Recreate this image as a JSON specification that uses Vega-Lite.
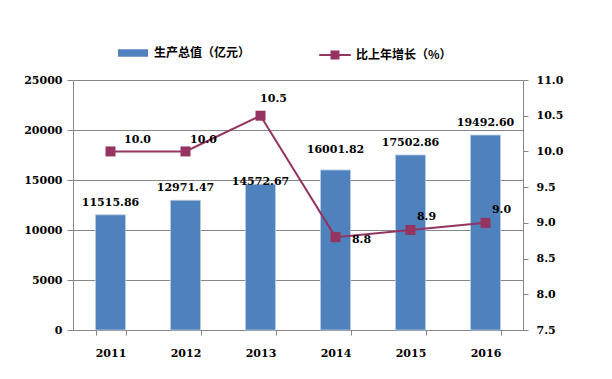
{
  "$schema": "https://vega.github.io/schema/vega-lite/v6.json",
  "width": 450,
  "height": 250,
  "autosize": {"type": "none"},
  "padding": {"left": 73, "top": 80, "right": 89, "bottom": 49},
  "background": "white",
  "config": {
    "view": {"stroke": null},
    "font": "DejaVu Serif",
    "axis": {"labelFont": "DejaVu Serif", "labelFontWeight": "bold", "labelFontSize": 11, "labelColor": "black", "domainColor": "#868686", "tickColor": "#868686", "titleFontSize": 0}
  },
  "data": {"values": [
    {"year": "2011", "gdp": 11515.86, "gdpLabel": "11515.86", "growth": 10.0, "gLabel": "10.0", "s1": "生产总值（亿元）", "s2": "比上年增长（%）"},
    {"year": "2012", "gdp": 12971.47, "gdpLabel": "12971.47", "growth": 10.0, "gLabel": "10.0", "s1": "生产总值（亿元）", "s2": "比上年增长（%）"},
    {"year": "2013", "gdp": 14572.67, "gdpLabel": "14572.67", "growth": 10.5, "gLabel": "10.5", "s1": "生产总值（亿元）", "s2": "比上年增长（%）"},
    {"year": "2014", "gdp": 16001.82, "gdpLabel": "16001.82", "growth": 8.8, "gLabel": "8.8", "s1": "生产总值（亿元）", "s2": "比上年增长（%）"},
    {"year": "2015", "gdp": 17502.86, "gdpLabel": "17502.86", "growth": 8.9, "gLabel": "8.9", "s1": "生产总值（亿元）", "s2": "比上年增长（%）"},
    {"year": "2016", "gdp": 19492.60, "gdpLabel": "19492.60", "growth": 9.0, "gLabel": "9.0", "s1": "生产总值（亿元）", "s2": "比上年增长（%）"}
  ]},
  "encoding": {
    "x": {"field": "year", "type": "ordinal", "title": null,
      "scale": {"paddingInner": 0.6, "paddingOuter": 0.3},
      "axis": {"labelAngle": 0, "tickBand": "extent", "tickSize": 5, "labelPadding": 12, "labelFontSize": 11}}
  },
  "layer": [
    {
      "encoding": {
        "y": {"field": "gdp", "type": "quantitative", "title": null,
          "scale": {"domain": [0, 25000], "nice": false},
          "axis": {"values": [0, 5000, 10000, 15000, 20000, 25000], "format": "d", "grid": true, "gridColor": "#868686", "tickSize": 6, "labelPadding": 5}}
      },
      "layer": [
        {"mark": {"type": "bar", "stroke": "#B9CDE5", "strokeWidth": 0.8},
         "encoding": {"fill": {"field": "s1", "type": "nominal", "scale": {"range": ["#4F81BD"]},
           "legend": {"title": null, "orient": "none", "legendX": 45, "legendY": -42, "symbolType": "M-1,-0.25H1V0.25H-1Z", "symbolSize": 900, "symbolStrokeWidth": 0, "labelFont": "Noto Sans CJK SC", "labelFontWeight": "bold", "labelFontSize": 12, "labelColor": "black", "labelOffset": 6}}}},
        {"transform": [{"filter": "datum.year != '2013' && datum.year != '2014'"}],
         "mark": {"type": "text", "fontWeight": "bold", "fontSize": 11, "font": "DejaVu Serif", "baseline": "middle", "dy": -12},
         "encoding": {"text": {"field": "gdpLabel"}}},
        {"transform": [{"filter": "datum.year == '2013'"}],
         "mark": {"type": "text", "fontWeight": "bold", "fontSize": 11, "font": "DejaVu Serif", "baseline": "middle", "dy": -2},
         "encoding": {"text": {"field": "gdpLabel"}}},
        {"transform": [{"filter": "datum.year == '2014'"}],
         "mark": {"type": "text", "fontWeight": "bold", "fontSize": 11, "font": "DejaVu Serif", "baseline": "middle", "dy": -20},
         "encoding": {"text": {"field": "gdpLabel"}}}
      ]
    },
    {
      "encoding": {
        "y": {"field": "growth", "type": "quantitative", "title": null,
          "scale": {"domain": [7.5, 11], "nice": false, "zero": false},
          "axis": {"orient": "right", "values": [7.5, 8, 8.5, 9, 9.5, 10, 10.5, 11], "format": ".1f", "grid": false, "tickSize": 5, "labelPadding": 8}}
      },
      "layer": [
        {"mark": {"type": "line", "strokeWidth": 2},
         "encoding": {"stroke": {"field": "s2", "type": "nominal", "scale": {"range": ["#953461"]},
           "legend": {"title": null, "orient": "none", "legendX": 245, "legendY": -42, "symbolType": "M-1,0H1M-0.22,-0.22H0.22V0.22H-0.22Z", "symbolSize": 1000, "symbolFillColor": "#953461", "symbolStrokeWidth": 2, "labelFont": "Noto Sans CJK SC", "labelFontWeight": "bold", "labelFontSize": 12, "labelColor": "black", "labelOffset": 4}}}},
        {"mark": {"type": "point", "shape": "square", "filled": true, "size": 100, "color": "#953461", "opacity": 1}},
        {"transform": [{"filter": "datum.year == '2011'"}],
         "mark": {"type": "text", "fontWeight": "bold", "fontSize": 11, "font": "DejaVu Serif", "baseline": "middle", "dx": 27, "dy": -11},
         "encoding": {"text": {"field": "gLabel"}}},
        {"transform": [{"filter": "datum.year == '2012'"}],
         "mark": {"type": "text", "fontWeight": "bold", "fontSize": 11, "font": "DejaVu Serif", "baseline": "middle", "dx": 18, "dy": -11},
         "encoding": {"text": {"field": "gLabel"}}},
        {"transform": [{"filter": "datum.year == '2013'"}],
         "mark": {"type": "text", "fontWeight": "bold", "fontSize": 11, "font": "DejaVu Serif", "baseline": "middle", "dx": 13, "dy": -17},
         "encoding": {"text": {"field": "gLabel"}}},
        {"transform": [{"filter": "datum.year == '2014'"}],
         "mark": {"type": "text", "fontWeight": "bold", "fontSize": 11, "font": "DejaVu Serif", "baseline": "middle", "dx": 26, "dy": 3},
         "encoding": {"text": {"field": "gLabel"}}},
        {"transform": [{"filter": "datum.year == '2015' || datum.year == '2016'"}],
         "mark": {"type": "text", "fontWeight": "bold", "fontSize": 11, "font": "DejaVu Serif", "baseline": "middle", "dx": 16, "dy": -13},
         "encoding": {"text": {"field": "gLabel"}}}
      ]
    }
  ],
  "resolve": {"scale": {"y": "independent"}}
}
